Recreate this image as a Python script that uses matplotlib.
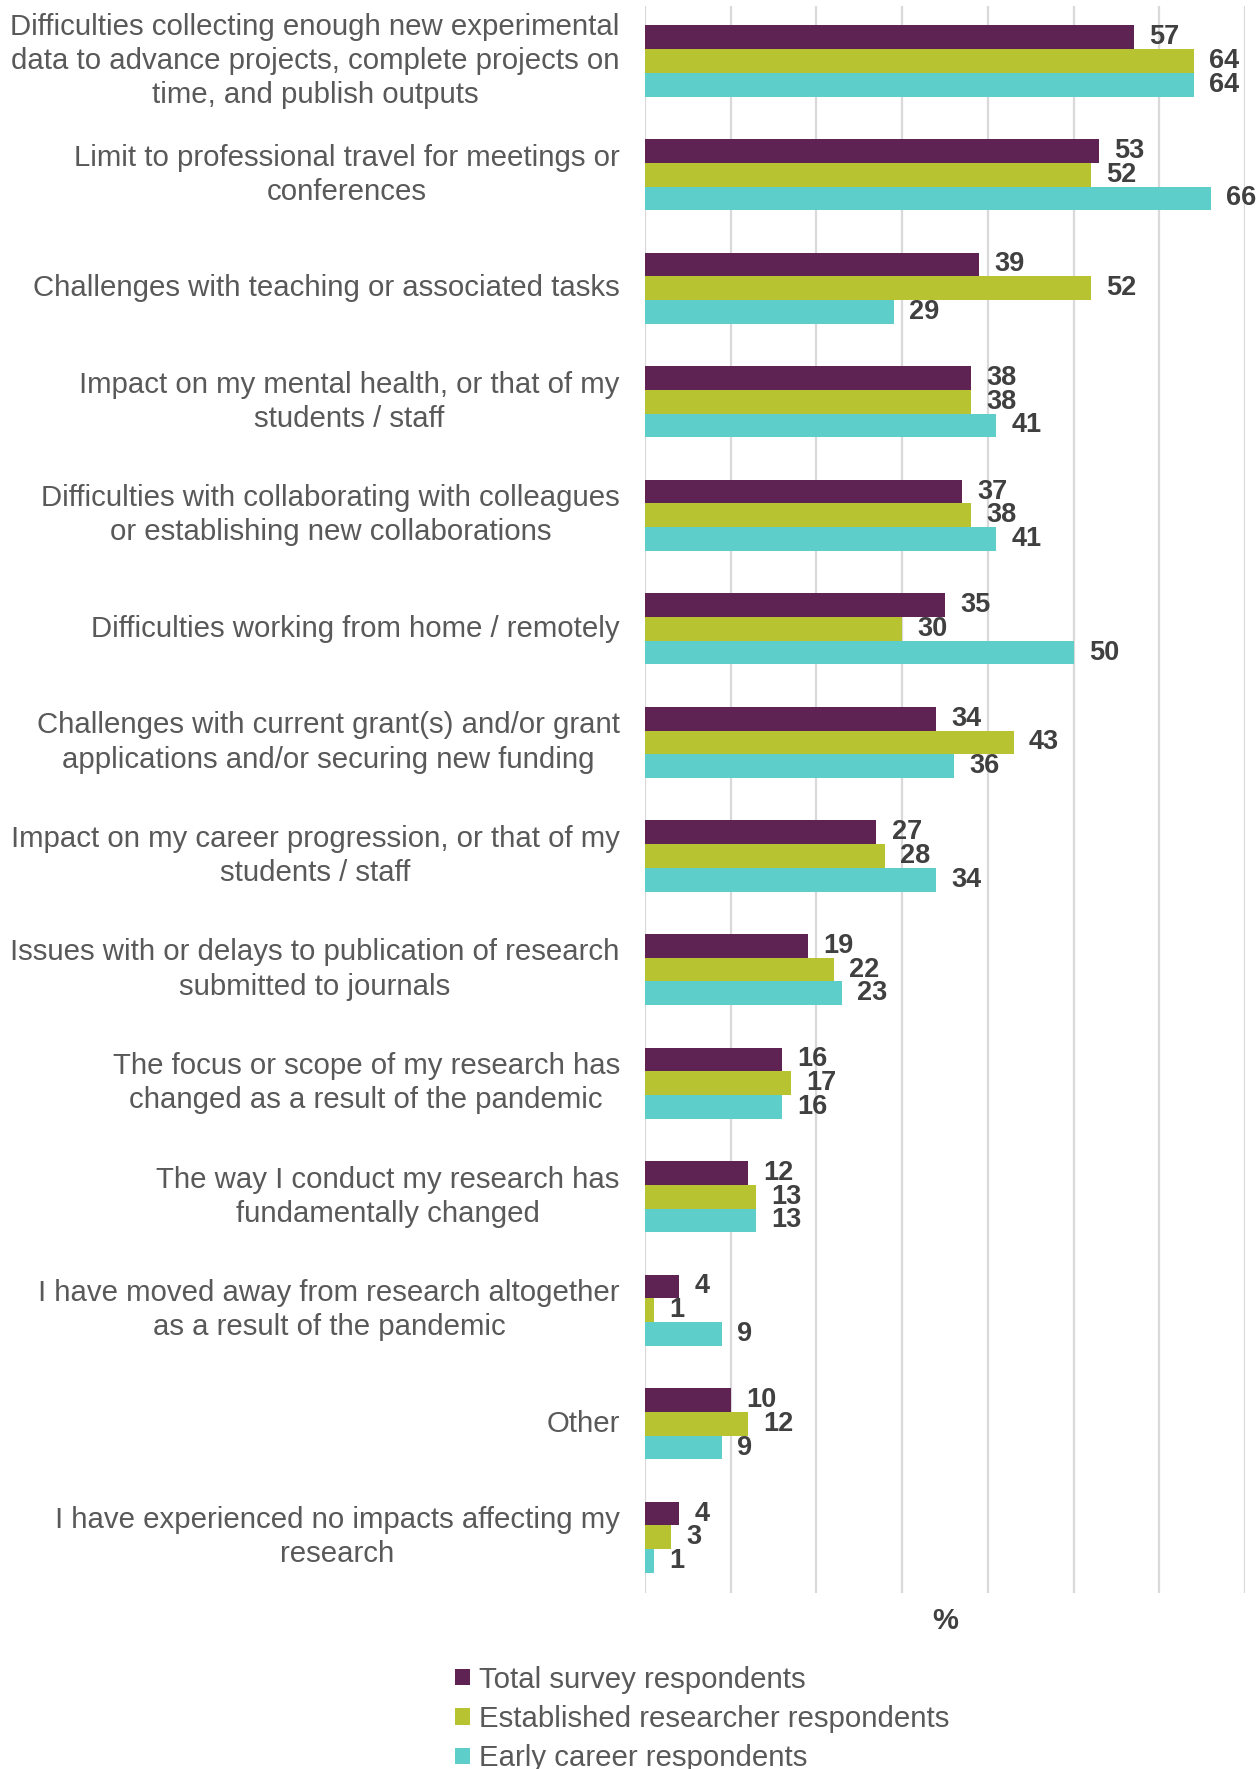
import matplotlib
matplotlib.use('Agg')
import matplotlib.pyplot as plt
import numpy as np

# ── data ───────────────────────────────────────────────────────────────────
categories = [
    "Difficulties collecting enough new experimental\ndata to advance projects, complete projects on\ntime, and publish outputs",
    "Limit to professional travel for meetings or\nconferences",
    "Challenges with teaching or associated tasks",
    "Impact on my mental health, or that of my\nstudents / staff",
    "Difficulties with collaborating with colleagues\nor establishing new collaborations",
    "Difficulties working from home / remotely",
    "Challenges with current grant(s) and/or grant\napplications and/or securing new funding",
    "Impact on my career progression, or that of my\nstudents / staff",
    "Issues with or delays to publication of research\nsubmitted to journals",
    "The focus or scope of my research has\nchanged as a result of the pandemic",
    "The way I conduct my research has\nfundamentally changed",
    "I have moved away from research altogether\nas a result of the pandemic",
    "Other",
    "I have experienced no impacts affecting my\nresearch",
]
total       = [57, 53, 39, 38, 37, 35, 34, 27, 19, 16, 12, 4, 10, 4]
established = [64, 52, 52, 38, 38, 30, 43, 28, 22, 17, 13, 1, 12, 3]
early       = [64, 66, 29, 41, 41, 50, 36, 34, 23, 16, 13, 9, 9, 1]

series_names = ["Total survey respondents",
                "Established researcher respondents",
                "Early career respondents"]
colors = ["#5E2352", "#B8C332", "#5ECECB"]

# ── style ──────────────────────────────────────────────────────────────────
plt.rcParams['font.family'] = ['Liberation Sans', 'DejaVu Sans']
LABEL_GREY = "#595959"
VALUE_GREY = "#404040"
VALUE_FONT = ['Liberation Sans Narrow', 'Liberation Sans', 'DejaVu Sans']
FS = 21.2

fig = plt.figure(figsize=(12.58, 17.69), dpi=100)
ax = fig.add_axes([0.5127, 0.0995, 0.477, 0.8971])

y = np.arange(len(categories))
h = 0.209
for k, (vals, name, col) in enumerate(zip([total, established, early], series_names, colors)):
    ypos = y + (k - 1) * h
    ax.barh(ypos, vals, height=h, color=col, label=name, zorder=3)
    for yy, v in zip(ypos, vals):
        ax.annotate(str(v), (v, yy), xytext=(11, 0), textcoords='offset points',
                    ha='left', va='center', fontsize=19.5, fontweight='bold',
                    color=VALUE_GREY, family=VALUE_FONT, zorder=4)

ax.set_xlim(0, 70)
ax.set_ylim(13.49, -0.485)
ax.set_xticks(np.arange(0, 71, 10))
ax.xaxis.grid(True, color="#D9D9D9", linewidth=1.6, zorder=0)
ax.tick_params(axis='x', length=0, labelbottom=False)
ax.tick_params(axis='y', length=0, labelleft=False)
for s in ax.spines.values():
    s.set_visible(False)

# category labels, right-aligned block, centred lines
for yy, cat in zip(y, categories):
    ax.text(-0.042, yy, cat, transform=ax.get_yaxis_transform(),
            ha='right', va='center', multialignment='center',
            fontsize=FS, color=LABEL_GREY, linespacing=1.28)

ax.text(0.5, -0.009, "%", transform=ax.transAxes, ha='center', va='top',
        fontsize=21, fontweight='bold', color=VALUE_GREY)

fig.legend(loc='upper left', bbox_to_anchor=(0.362, 0.0585), frameon=False,
           fontsize=FS, labelcolor=LABEL_GREY, handlelength=0.5,
           handleheight=0.5, handletextpad=0.3, labelspacing=0.39,
           borderpad=0, borderaxespad=0)

fig.savefig("out.png", dpi=100)
